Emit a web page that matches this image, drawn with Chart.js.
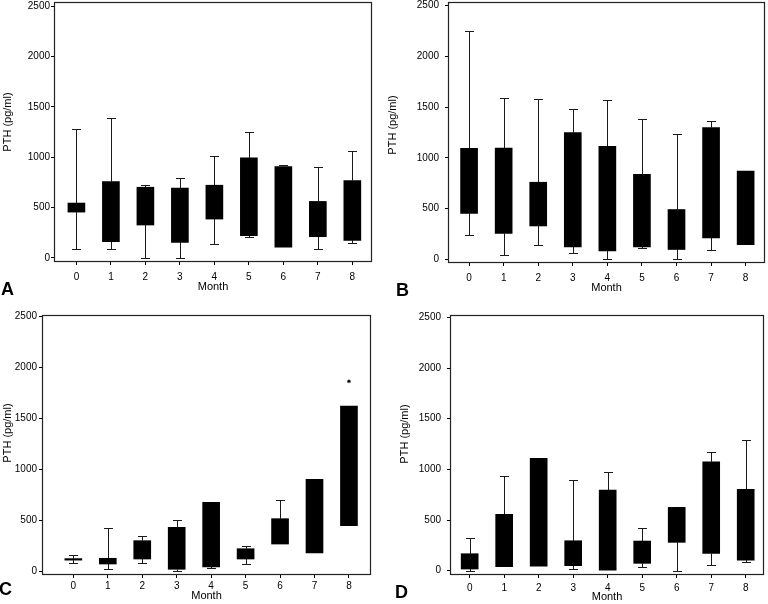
<!DOCTYPE html>
<html>
<head>
<meta charset="utf-8">
<script src="https://cdn.jsdelivr.net/npm/chart.js@4.4.0/dist/chart.umd.min.js"></script>
<style>
  body { margin: 0; background: #fff; }
  #wrap { position: relative; width: 768px; height: 604px; overflow: hidden; font-family: "Liberation Sans", Arial, sans-serif; color: #000; }
  canvas { position: absolute; }
  .tag { position: absolute; font-weight: bold; font-size: 18px; line-height: 18px; }
  .ylab { position: absolute; font-size: 11px; white-space: nowrap; transform: translate(-50%, -50%) rotate(-90deg); }
</style>
</head>
<body>
<div id="wrap">
  <canvas id="chartA" width="384" height="302" style="left:0;top:0"></canvas>
  <canvas id="chartB" width="384" height="302" style="left:384px;top:0"></canvas>
  <canvas id="chartC" width="384" height="302" style="left:0;top:302px"></canvas>
  <canvas id="chartD" width="384" height="302" style="left:384px;top:302px"></canvas>

  <div class="ylab" style="left:7px;top:122px">PTH (pg/ml)</div>
  <div class="ylab" style="left:392px;top:125px">PTH (pg/ml)</div>
  <div class="ylab" style="left:7px;top:433px">PTH (pg/ml)</div>
  <div class="ylab" style="left:404px;top:434px">PTH (pg/ml)</div>

  <div class="tag" style="left:1px;top:280px">A</div>
  <div class="tag" style="left:396px;top:281px">B</div>
  <div class="tag" style="left:-1px;top:580px">C</div>
  <div class="tag" style="left:395px;top:583px">D</div>
</div>
<script>
const months = [0, 1, 2, 3, 4, 5, 6, 7, 8];
const yTicks = [0, 500, 1000, 1500, 2000, 2500];

// panel A
const q1A = [455, 162, 327, 155, 386, 221, 106, 211, 175];
const q3A = [545, 759, 702, 693, 722, 993, 907, 561, 768];
const loA = [90, 89, 0, 0, 135, 208, null, 92, 152];
const hiA = [1280, 1385, 722, 798, 1009, 1250, 927, 900, 1059];

// panel B
const q1B = [452, 256, 329, 123, 82, 122, 97, 211, 145];
const q3B = [1093, 1097, 760, 1250, 1114, 838, 491, 1298, 870];
const loB = [240, 39, 145, 62, 0, 108, 0, 95, null];
const hiB = [2254, 1593, 1583, 1485, 1567, 1380, 1238, 1360, null];

// panel C
const q1C = [110, 72, 121, 20, 43, 121, 268, 180, 448];
const q3C = [125, 128, 301, 432, 677, 222, 517, 903, 1623];
const loC = [85, 20, 79, 0, 33, 69, null, null, null];
const hiC = [157, 422, 344, 504, 680, 245, 703, null, null];
const outlierMonthC = [8];
const outlierValueC = [1866];

// panel D
const q1D = [17, 40, 46, 50, 5, 73, 280, 171, 105];
const q3D = [168, 556, 1108, 296, 796, 293, 625, 1075, 803];
const loD = [0, null, null, 20, null, 40, 0, 56, 86];
const hiD = [326, 934, null, 894, 970, 424, 631, 1168, 1293];

const family = '"Liberation Sans", Arial, sans-serif';

const frame = {
  id: 'frame',
  afterDraw(chart) {
    const { ctx, chartArea: a } = chart;
    ctx.save();
    ctx.strokeStyle = '#222';
    ctx.lineWidth = 1.2;
    ctx.strokeRect(Math.round(a.left) + 0.5, Math.round(a.top) + 0.5,
      Math.round(a.right - a.left) - 1, Math.round(a.bottom - a.top) - 1);
    ctx.restore();
  },
};

function whiskerPlugin(q1, q3, lo, hi) {
  return {
    id: 'whiskers',
    beforeDatasetsDraw(chart) {
      const { ctx, scales: { x, y } } = chart;
      ctx.save();
      ctx.strokeStyle = '#1a1a1a';
      ctx.lineWidth = 1;
      months.forEach((m, i) => {
        const px = Math.round(x.getPixelForValue(m)) + 0.5;
        [[hi[i], q3[i]], [lo[i], q1[i]]].forEach(([end, edge]) => {
          if (end === null) return;
          const ye = Math.round(y.getPixelForValue(end)) + 0.5;
          const yb = y.getPixelForValue(edge);
          ctx.beginPath();
          ctx.moveTo(px, yb);
          ctx.lineTo(px, ye);
          ctx.moveTo(px - 4.5, ye);
          ctx.lineTo(px + 4.5, ye);
          ctx.stroke();
        });
      });
      ctx.restore();
    },
  };
}

function drawPanel(id, q1, q3, lo, hi, g) {
  const datasets = [{
    type: 'bar',
    data: months.map((m, i) => ({ x: m, y: [q1[i], q3[i]] })),
    backgroundColor: '#000',
    borderWidth: 0,
    barThickness: 17,
  }];
  if (g.outX) {
    datasets.push({
      type: 'scatter',
      data: g.outX.map((m, i) => ({ x: m, y: g.outY[i] })),
      pointStyle: 'star',
      radius: 1.8,
      borderWidth: 1,
      borderColor: '#000',
      backgroundColor: '#000',
    });
  }
  new Chart(document.getElementById(id), {
    type: 'bar',
    data: { datasets },
    options: {
      responsive: false,
      animation: false,
      devicePixelRatio: 1,
      layout: { padding: { top: g.top, right: g.right, left: 0, bottom: 0 } },
      plugins: { legend: { display: false }, tooltip: { enabled: false } },
      scales: {
        x: {
          type: 'linear',
          min: g.xMin,
          max: g.xMax,
          offset: false,
          grid: { display: true, offset: false, drawOnChartArea: false, drawTicks: true, tickLength: 3, color: '#000' },
          border: { display: false },
          ticks: { font: { size: 10, family }, color: '#000', padding: g.xPad, autoSkip: false, maxRotation: 0, callback: (v) => String(v) },
          afterBuildTicks: (s) => { s.ticks = months.map((v) => ({ value: v })); },
          afterFit: (s) => { s.height = g.xH; s.paddingLeft = 0; s.paddingRight = 0; },
          title: { display: true, text: 'Month', font: { size: 11, family }, color: '#000', padding: { top: 0, bottom: g.titlePad } },
        },
        y: {
          min: g.yMin,
          max: g.yMax,
          grid: { display: true, drawOnChartArea: false, drawTicks: true, tickLength: 3, color: '#000' },
          border: { display: false },
          ticks: { font: { size: 10, family }, color: '#000', padding: g.yPad, callback: (v) => String(v) },
          afterBuildTicks: (s) => { s.ticks = yTicks.map((v) => ({ value: v })); },
          afterFit: (s) => { s.width = g.yW; s.paddingTop = 0; s.paddingBottom = 0; },
        },
      },
    },
    plugins: [frame, whiskerPlugin(q1, q3, lo, hi)],
  });
}

drawPanel('chartA', q1A, q3A, loA, hiA, {
  top: 2, right: 12, yW: 54, xH: 40, xMin: -0.65, xMax: 8.57, yMin: -40, yMax: 2540, xPad: 6, yPad: 1, titlePad: 8,
});
drawPanel('chartB', q1B, q3B, loB, hiB, {
  top: 2, right: 3, yW: 64, xH: 39, xMin: -0.61, xMax: 8.56, yMin: -36, yMax: 2536, xPad: 6, yPad: 6, titlePad: 7,
});
drawPanel('chartC', q1C, q3C, loC, hiC, {
  top: 13, right: 13, yW: 42, xH: 29, xMin: -0.91, xMax: 8.64, yMin: -36, yMax: 2517, xPad: 2, yPad: 2, titlePad: 1,
  outX: outlierMonthC, outY: outlierValueC,
});
drawPanel('chartD', q1D, q3D, loD, hiD, {
  top: 13, right: 4, yW: 66, xH: 29, xMin: -0.57, xMax: 8.53, yMin: -42, yMax: 2523, xPad: 4, yPad: 6, titlePad: 0,
});
</script>
</body>
</html>
